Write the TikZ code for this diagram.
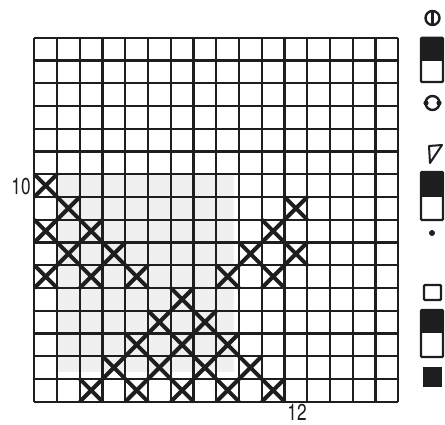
\documentclass[tikz,border=0pt]{standalone}
\usepackage{fontspec}
\newfontfamily\chiffres[FakeStretch=0.75]{TeX Gyre Heros}
\usepackage{tikz}
\definecolor{encre}{RGB}{30, 30, 30}
\definecolor{ombre}{RGB}{240, 240, 240}

\begin{document}
\begin{tikzpicture}[x=1pt, y=-1pt]
			\useasboundingbox (0, 0) rectangle (445, 425);
			\def\pas{22.75}
			
			% FOND GRIS
			\fill[ombre] (57, 174.2) rectangle (234, 371.7);
			
			% GRILLE 16 x 16
			\foreach \i in {0,...,16} {
				\draw[encre, line width=2.2] ({34.3+\i*\pas}, 37.7) -- ({34.3+\i*\pas}, 401.7);
				\draw[encre, line width=2.2] (34.3, {37.7+\i*\pas}) -- (398.3, {37.7+\i*\pas});
			}
			
			% CROIX : colonne / rang
			\foreach \c/\r in {1/10, 2/9, 12/9, 1/8, 3/8, 11/8, 2/7, 4/7, 10/7, 12/7,
				1/6, 3/6, 5/6, 9/6, 11/6, 7/5, 6/4, 8/4, 5/3, 7/3, 9/3,
				4/2, 6/2, 8/2, 10/2, 3/1, 5/1, 7/1, 9/1, 11/1} {
				\draw[encre, line width=4] ({34.3+(\c-1)*\pas}, {37.7+(16-\r)*\pas}) -- ++(\pas, \pas);
				\draw[encre, line width=4] ({34.3+\c*\pas}, {37.7+(16-\r)*\pas}) -- ++(-\pas, \pas);
			}
			
			% NUMEROS
			\node[encre, inner sep=0, font=\chiffres\fontsize{23}{23}\selectfont] (rang10) at (21, 187) {10};
			\node[encre, inner sep=0, font=\chiffres\fontsize{23}{23}\selectfont] (maille12) at (297, 412) {12};
			
			% LEGENDE
			\draw[encre, line width=2.4] (432.5, 18) circle (7);
			\draw[encre, line width=2.6] (432.5, 11) -- (432.5, 25);
			
			\fill[encre] (421, 37.7) rectangle (443, 61);
			\draw[encre, line width=2.2, rounded corners=1] (421, 37.7) rectangle (443, 82);
			
			\draw[encre, line width=2.4] (432.5, 103) circle (7);
			\fill[encre] (426, 103) circle (2.6);
			\fill[encre] (439, 103) circle (2.6);
			
			\draw[encre, line width=2, line join=round] (429, 146) -- (442, 145) -- (430, 163) -- cycle;
			
			\fill[encre] (421, 172) rectangle (443, 197);
			\draw[encre, line width=2.2, rounded corners=1] (421, 172) rectangle (443, 220);
			
			\fill[encre] (432, 233) circle (3);
			
			\draw[encre, line width=2.2, rounded corners=1] (424, 285) rectangle (441, 300);
			
			\fill[encre] (421, 310) rectangle (443, 333);
			\draw[encre, line width=2.2, rounded corners=1] (421, 310) rectangle (443, 357);
			
			\fill[encre] (423, 367) rectangle (442, 387);
			
		\end{tikzpicture}
\end{document}
